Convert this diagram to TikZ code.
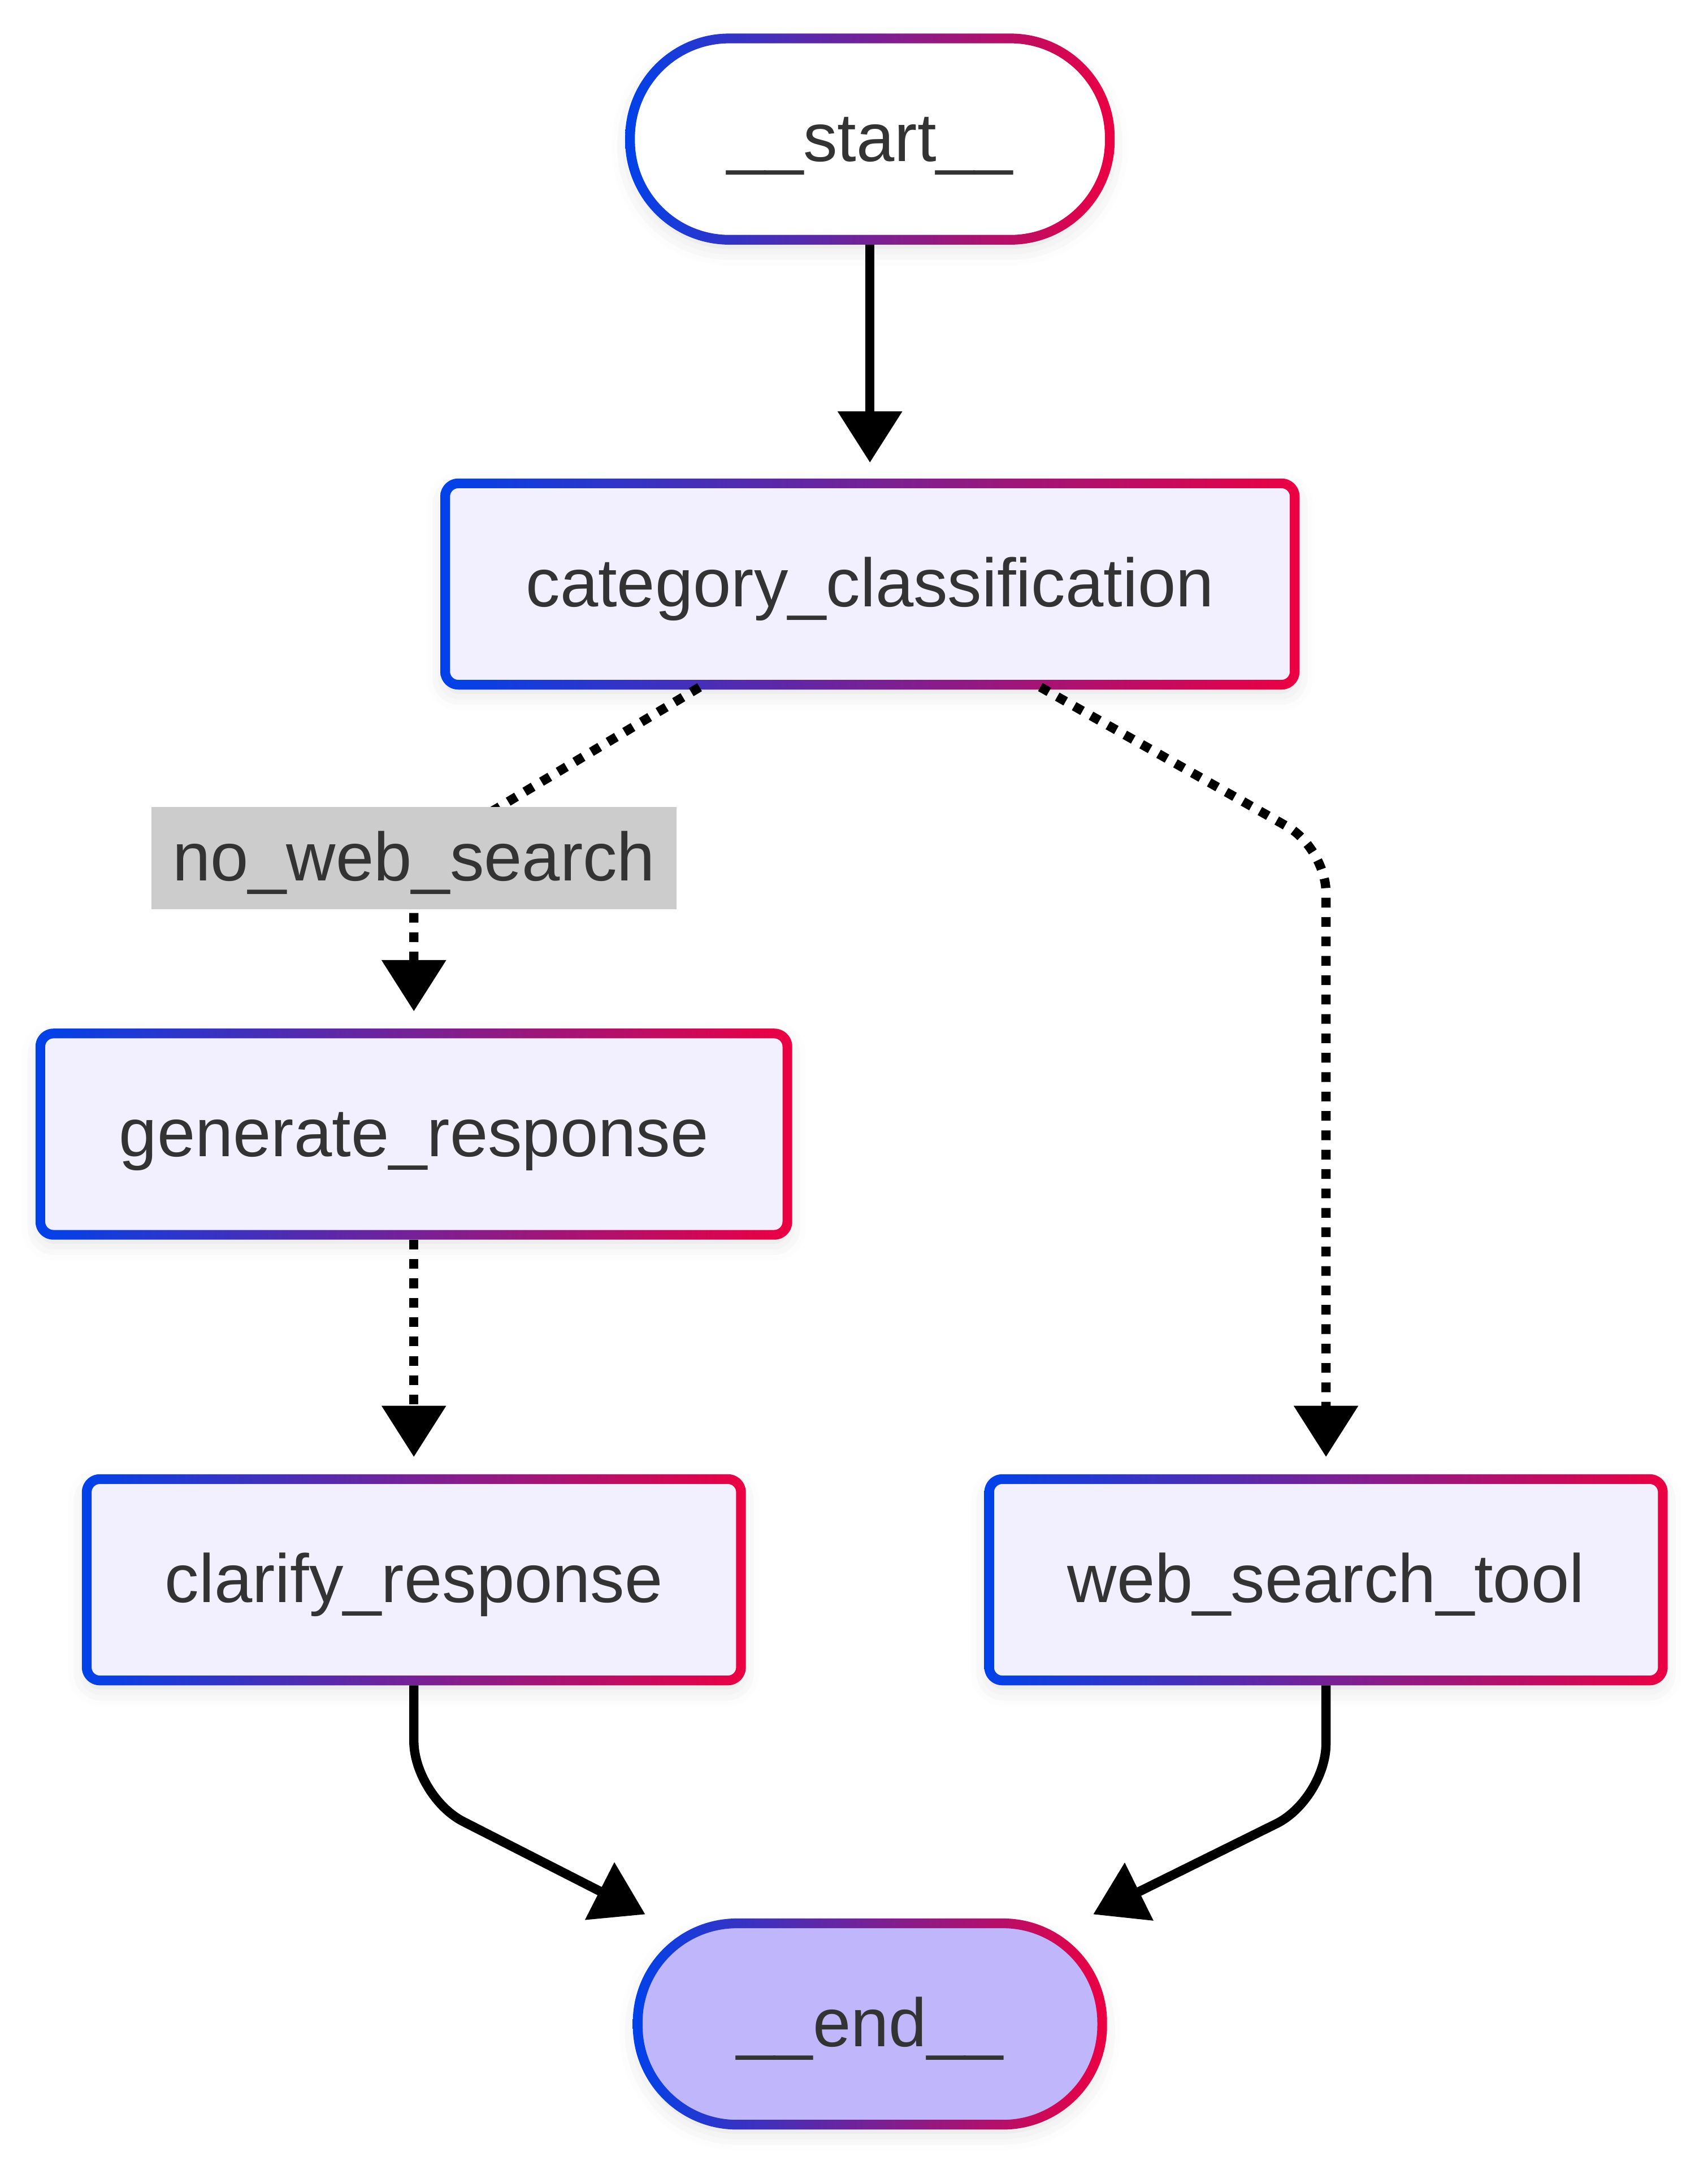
\documentclass[tikz,border=0pt]{standalone}
\usepackage{fontspec}
\setmainfont{Liberation Sans}
\usetikzlibrary{arrows.meta,shadows.blur}
\definecolor{edgeblue}{RGB}{0,66,234}
\definecolor{edgered}{RGB}{236,0,66}
\definecolor{nodefill}{HTML}{F2F0FF}
\definecolor{endfill}{HTML}{BFB6FC}
\definecolor{labelgray}{HTML}{CCCCCC}
\definecolor{textgray}{HTML}{333333}

% gradient rim round a node: name, outer radius, inner radius
\newcommand{\noderim}[3]{%
  \shade[rimshade]
    ([shift={(-1pt,-1pt)}]#1.south west) [rounded corners=#2] rectangle ([shift={(1pt,1pt)}]#1.north east)
    ([shift={(1pt,1pt)}]#1.south west) [rounded corners=#3] rectangle ([shift={(-1pt,-1pt)}]#1.north east);
}

\tikzset{
  graphnode/.style={inner sep=0pt, fill=nodefill, text=textgray,
    font=\fontsize{14.05}{16}\selectfont, minimum height=1.44cm,
    text height=10.4pt, text depth=1.2pt,
    blur shadow={shadow xshift=0pt, shadow yshift=-1.5pt,
      shadow blur radius=4pt, shadow opacity=14}},
  boxnode/.style={graphnode, rounded corners=2.7pt},
  pillnode/.style={graphnode, rounded corners=0.715cm},
  rimshade/.style={left color=edgeblue, right color=edgered, even odd rule},
  flowline/.style={line width=1.9pt, shorten <=1pt,
    -{Triangle[length=0.37cm,width=0.45cm]}},
  solidflow/.style={flowline},
  dotflow/.style={flowline, dash pattern=on 0.07cm off 0.07cm},
  edgelabel/.style={fill=labelgray, text=textgray, inner sep=0pt,
    font=\fontsize{14.05}{16}\selectfont, text height=10.4pt, text depth=1.2pt,
    minimum width=3.79cm, minimum height=0.74cm},
}

\begin{document}
\begin{tikzpicture}[x=0.01cm, y=-0.01cm]
  \useasboundingbox (0,0) rectangle (1234,1568);
  % nodes
  \node[pillnode, fill=white, minimum width=3.45cm] (start) at (628.5,100.5) {\_\_start\_\_};
  \node[boxnode, minimum width=6.12cm] (cat) at (628.5,422) {category\_classification};
  \node[boxnode, minimum width=5.38cm] (gen) at (299,819.5) {generate\_response};
  \node[boxnode, minimum width=4.71cm] (clar) at (299,1141.5) {clarify\_response};
  \node[boxnode, minimum width=4.85cm] (web) at (958,1141.5) {web\_search\_tool};
  \node[pillnode, fill=endfill, minimum width=3.34cm] (endn) at (628.5,1462.5) {\_\_end\_\_};
  % rims
  \noderim{start}{0.72cm+0.9pt}{0.72cm-1.1pt}
  \noderim{endn}{0.72cm+0.9pt}{0.72cm-1.1pt}
  \foreach \n in {cat,gen,clar,web}
    { \noderim{\n}{3.7pt}{1.7pt} }
  % bends
  \coordinate (nwsbend) at (299,620);
  \coordinate (websbend) at (958,613);
  \coordinate (clarbend) at (299,1298);
  \coordinate (webbend) at (958,1300);
  % edges
  \draw[solidflow, shorten >=0.15cm] (start.south) -- (cat.north);
  \draw[dotflow, shorten >=0.16cm] ([xshift=-1.2cm]cat.south) -- (nwsbend) -- (gen.north);
  \node[edgelabel] (nws) at (nwsbend) {no\_web\_search};
  \draw[dotflow, rounded corners=0.32cm, shorten >=0.16cm]
    ([xshift=1.2cm]cat.south) -- (websbend) -- (web.north);
  \draw[dotflow, shorten >=0.16cm] (gen.south) -- (clar.north);
  \draw[solidflow, rounded corners=0.4cm]
    (clar.south) -- (clarbend) -- ([shift={(0.055cm,0.065cm)}]endn.north west);
  \draw[solidflow, rounded corners=0.4cm]
    (web.south) -- (webbend) -- ([shift={(-0.065cm,0.065cm)}]endn.north east);
\end{tikzpicture}
\end{document}
